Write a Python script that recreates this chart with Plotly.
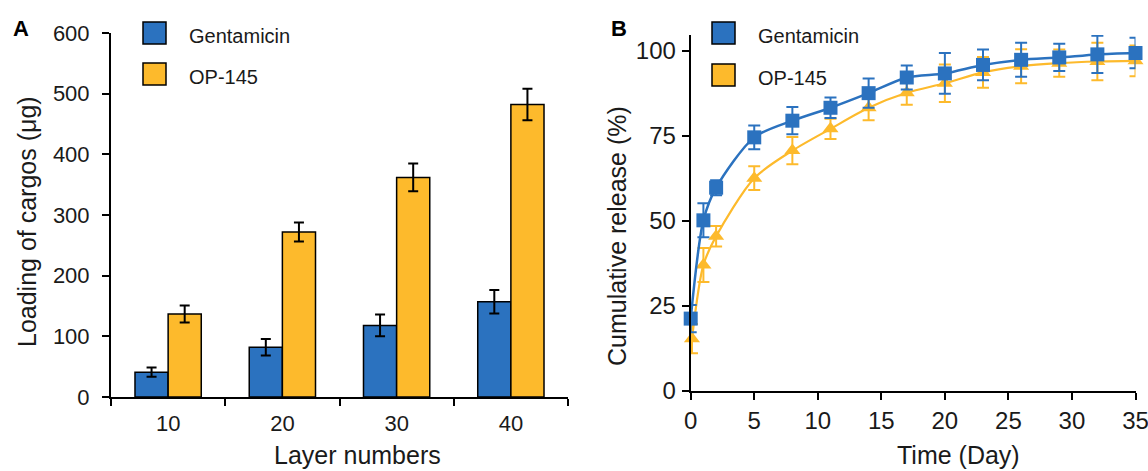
import plotly.graph_objects as go

# ---------------- data ----------------
layers = ["10", "20", "30", "40"]
gent_load = [41, 82, 118, 157]
gent_load_err = [7.5, 13.5, 18, 19.5]
op_load = [137, 272, 362, 482]
op_load_err = [14, 15.5, 23, 26]

days = [0, 1, 2, 5, 8, 11, 14, 17, 20, 23, 26, 29, 32, 35]
gent_rel = [21.2, 50.1, 59.7, 74.5, 79.4, 83.2, 87.5, 92.1, 93.3, 95.8, 97.3, 98.0, 98.9, 99.3]
gent_rel_err = [4.0, 5.0, 2.2, 3.5, 4.0, 3.0, 4.3, 3.5, 6.0, 4.5, 5.0, 4.0, 5.5, 4.5]
op_days = [0.1, 1, 2, 5, 8, 11, 14, 17, 20, 23, 26, 29, 32, 35]
op_rel = [15.3, 37.0, 45.4, 62.5, 70.6, 77.0, 83.2, 87.6, 90.4, 93.6, 95.4, 96.3, 96.8, 97.0]
op_rel_err = [4.3, 5.0, 3.0, 3.5, 4.0, 3.0, 3.7, 3.5, 5.5, 4.5, 5.0, 4.0, 5.5, 4.5]

BLUE = "#2B72BF"
ORANGE = "#FDBA2C"
FONT = "Liberation Sans, Arial, sans-serif"
W, H = 1148, 471


def px(x):
    return x / W


def py(y):
    return 1 - y / H


fig = go.Figure()

# Panel A bars
fig.add_trace(go.Bar(
    x=layers, y=gent_load, name="Gentamicin",
    marker=dict(color=BLUE, line=dict(color="black", width=1.5)),
    error_y=dict(type="data", array=gent_load_err, color="black", thickness=2, width=5),
    xaxis="x", yaxis="y", showlegend=False))
fig.add_trace(go.Bar(
    x=layers, y=op_load, name="OP-145",
    marker=dict(color=ORANGE, line=dict(color="black", width=1.5)),
    error_y=dict(type="data", array=op_load_err, color="black", thickness=2, width=5),
    xaxis="x", yaxis="y", showlegend=False))

# Panel B lines
fig.add_trace(go.Scatter(
    x=op_days, y=op_rel, name="OP-145", mode="lines+markers",
    line=dict(color=ORANGE, width=2.2, shape="spline", smoothing=0.8),
    marker=dict(symbol="triangle-up", size=14, color=ORANGE),
    error_y=dict(type="data", array=op_rel_err, color=ORANGE, thickness=2, width=6),
    xaxis="x2", yaxis="y2", showlegend=False, cliponaxis=False))
fig.add_trace(go.Scatter(
    x=days, y=gent_rel, name="Gentamicin", mode="lines+markers",
    line=dict(color=BLUE, width=2.5, shape="spline", smoothing=0.8),
    marker=dict(symbol="square", size=14, color=BLUE),
    error_y=dict(type="data", array=gent_rel_err, color=BLUE, thickness=2, width=6),
    xaxis="x2", yaxis="y2", showlegend=False, cliponaxis=False))

axis_common = dict(showgrid=False, zeroline=False, showline=True, linecolor="black",
                   linewidth=2, ticks="outside", tickcolor="black", tickwidth=2,
                   ticklen=7, automargin=False, ticklabeloverflow="allow")

fig.update_layout(
    template="none",
    width=W, height=H, margin=dict(l=0, r=0, t=0, b=0, pad=0),
    plot_bgcolor="white", paper_bgcolor="white",
    font=dict(family=FONT, color="#1a1a1a"),
    barmode="group", bargap=0.42, bargroupgap=0,
    xaxis=dict(domain=[px(111), px(568)], anchor="y", type="category",
               tickson="boundaries", tickfont=dict(size=22), ticklabelstandoff=6,
               **axis_common),
    yaxis=dict(domain=[py(397), py(33)], anchor="x", range=[0, 600], dtick=100,
               tickfont=dict(size=22), ticklabelstandoff=8, **axis_common),
    xaxis2=dict(domain=[px(690.7), px(1135.5)], anchor="y2", range=[0, 35], dtick=5,
                tickfont=dict(size=24), ticklabelstandoff=0, **axis_common),
    yaxis2=dict(domain=[py(390.7), py(35)], anchor="x2", range=[0, 104.6],
                tickvals=[0, 25, 50, 75, 100], tickfont=dict(size=24),
                ticklabelstandoff=1, **axis_common),
)

shapes = []
annotations = []


def text_at(x, y, text, size, angle=0, xanchor="center", color="#1a1a1a"):
    annotations.append(dict(xref="paper", yref="paper", x=px(x), y=py(y), text=text,
                            showarrow=False, xanchor=xanchor, yanchor="middle",
                            textangle=angle, font=dict(size=size, family=FONT, color=color)))


def legend(x0, y_tops, items):
    for (label, color), yt in zip(items, y_tops):
        shapes.append(dict(type="rect", xref="paper", yref="paper",
                           x0=px(x0), x1=px(x0 + 23), y0=py(yt + 22), y1=py(yt),
                           fillcolor=color, line=dict(color="black", width=1.5)))
        text_at(x0 + 44, yt + 14, label, 20, xanchor="left")


items = [("Gentamicin", BLUE), ("OP-145", ORANGE)]
legend(143, [22, 63], items)
legend(712, [22, 64], items)

# panel letters
text_at(21, 29, "<b>A</b>", 22, color="black")
text_at(619, 29, "<b>B</b>", 22, color="black")

# axis titles
text_at(357, 455, "Layer numbers", 25)
text_at(27, 222, "Loading of cargos (μg)", 25, angle=-90)
text_at(958, 455, "Time (Day)", 25)
text_at(617, 236, "Cumulative release (%)", 25, angle=-90)

fig.update_layout(shapes=shapes, annotations=annotations)

fig.write_html("out.html", config={"displayModeBar": False},
               post_script="document.body.style.margin='0px';")
